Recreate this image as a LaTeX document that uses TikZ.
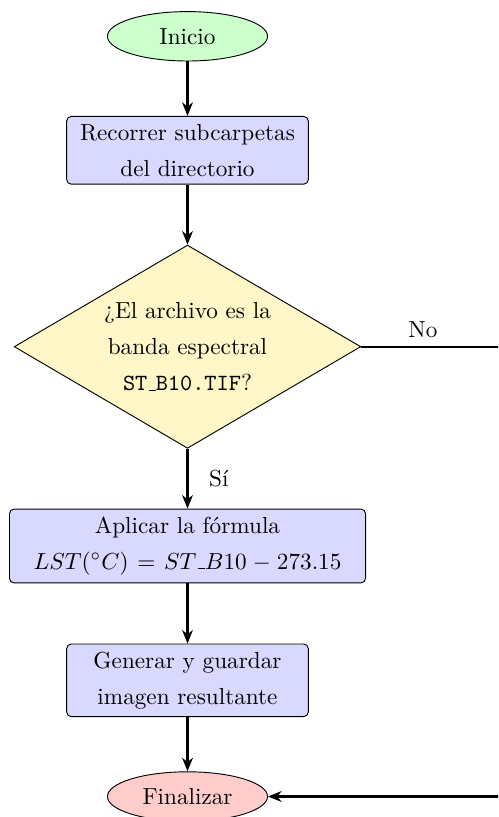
\documentclass[tikz,border=0pt]{standalone}
\usetikzlibrary{shapes.geometric,arrows.meta}

\definecolor{startgreen}{rgb}{0.80,1.00,0.80}
\definecolor{procblue}{rgb}{0.85,0.85,1.00}
\definecolor{decyellow}{rgb}{1.00,0.97,0.78}
\definecolor{endred}{rgb}{1.00,0.80,0.80}

% short low bar, as in the classic \_ of Computer Modern
\newcommand\lowbar{\mbox{\kern.06em\vbox{\hrule width.3em}}}

\begin{document}
\begin{tikzpicture}[x=0.431pt, y=-0.431pt,
  every node/.style={font=\fontsize{10}{15.5}\selectfont},
  terminal/.style={ellipse, draw=black, minimum width=69pt, minimum height=21.3pt, inner sep=1pt},
  process/.style={rectangle, rounded corners=2pt, draw=black, fill=procblue,
                  text width=97.5pt, align=center},
  decision/.style={diamond, draw=black, fill=decyellow, aspect=1.7,
                   minimum width=149.4pt, minimum height=87.6pt, inner sep=1pt,
                   text width=72pt, align=center},
  flow/.style={draw, line width=1pt, -{Stealth[length=5.8pt, width=4.6pt, inset=1.8pt]}}]

  \useasboundingbox (0,0) rectangle (498,817);
  \clip (0,0) rectangle (498,817);

  % nodes of the flow
  \node[terminal, fill=startgreen] (ini) at (187.5,36.3) {Inicio};
  \node[process] (rec) at (187.5,150.3) {Recorrer subcarpetas del directorio};
  \node[decision] (dec) at (187.5,346.7) {¿El archivo es la banda espectral \texttt{ST\lowbar B10.TIF}?};
  \node[process, text width=146.8pt] (apl) at (187.5,546) {Aplicar la fórmula\\ $LST(^\circ C) = ST\lowbar B10 - 273.15$};
  \node[process] (gen) at (187.5,680.3) {Generar y guardar imagen resultante};
  \node[terminal, fill=endred] (fin) at (187.5,796.5) {Finalizar};

  % turning point of the "No" branch, to the right of the column
  \coordinate (turn) at (530,346.7);

  % connectors
  \draw[flow] (ini) -- (rec);
  \draw[flow] (rec) -- (dec);
  \draw[flow] (dec.south) -- node[right, xshift=5.5pt] {Sí} (apl.north);
  \draw[flow] (apl) -- (gen);
  \draw[flow] (gen) -- (fin);
  \draw[flow] (dec.east) -- node[pos=0.365, above] {No} (dec.east -| turn) |- (fin.east);
\end{tikzpicture}
\end{document}
